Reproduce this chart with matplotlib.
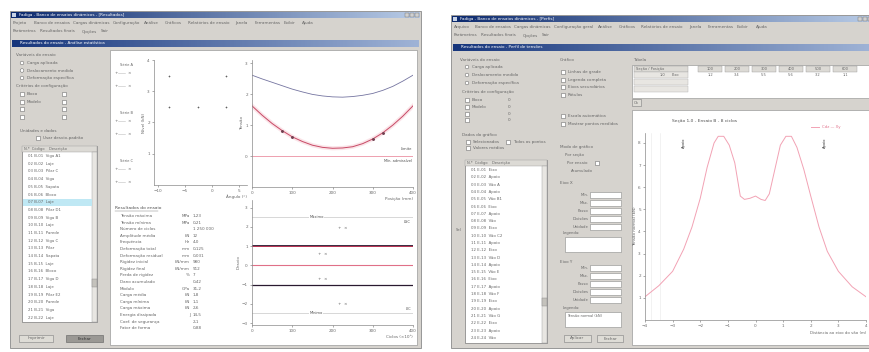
import matplotlib.pyplot as plt
import numpy as np
from matplotlib.colors import LinearSegmentedColormap
from matplotlib.patches import Rectangle


W, H = 869, 352

# left window, top-left plot: measured points
SCATTER_X = [-8.0, 2.6, -8.0, -2.6, 2.6]
SCATTER_Y = [3.5, 3.5, 2.5, 2.5, 2.5]

# left window, top-right plot: envelope curves
PROFILE_X = [0, 25, 50, 75, 100, 125, 150, 175, 200, 225, 250, 275, 300, 325, 350, 375, 400]
UPPER_CURVE = [2.61, 2.49, 2.38, 2.27, 2.16, 2.07, 1.99, 1.94, 1.91, 1.90, 1.92, 1.96, 2.02, 2.12, 2.25, 2.42, 2.61]
LOWER_CURVE = [1.62, 1.32, 1.05, 0.82, 0.62, 0.47, 0.35, 0.28, 0.25, 0.26, 0.30, 0.40, 0.55, 0.75, 1.00, 1.29, 1.62]
LOWER_MARKS_X = [75, 100, 300, 325]
LOWER_MARKS_Y = [0.82, 0.62, 0.55, 0.75]
LIMIT_LEVEL = 0.0

# left window, bottom plot: control levels
BAND_LEVELS = [2.5, 1.0, 0.0, -1.0, -2.5]
BAND_LABELS = ["Máximo", "", "", "", "Mínimo"]

# right window plot: two-peak profile
PEAK_X = [-4.0, -3.5, -3.0, -2.6, -2.3, -2.0, -1.75, -1.5, -1.35, -1.15, -0.95, -0.75, -0.55,
          -0.4, -0.2, 0.0, 0.2, 0.35, 0.5, 0.7, 0.9, 1.1, 1.3, 1.5, 1.75, 2.0, 2.3, 2.6, 3.0,
          3.5, 4.0]
PEAK_Y = [1.05, 1.55, 2.2, 3.2, 4.2, 5.5, 6.9, 8.0, 8.3, 8.3, 7.9, 7.1, 5.6,
          5.45, 5.5, 5.6, 5.45, 5.4, 5.7, 6.8, 7.9, 8.3, 8.3, 7.8, 6.8, 5.6, 4.2, 3.1, 2.2,
          1.5, 1.05]

MENU_LEFT = [
    ["Projeto", "Banco de ensaios", "Cargas dinâmicas", "Configuração", "Análise",
     "Gráficos", "Relatórios de ensaio", "Janela", "Ferramentas", "Exibir", "Ajuda"],
    ["Parâmetros", "Resultados finais", "Opções", "Sair"],
]
MENU_RIGHT = [
    ["Arquivo", "Banco de ensaios", "Cargas dinâmicas", "Configuração geral", "Análise",
     "Gráficos", "Relatórios de ensaio", "Janela", "Ferramentas", "Exibir", "Ajuda"],
    ["Parâmetros", "Resultados finais", "Opções", "Sair"],
]

LIST_LEFT = ["01 B-01  Viga A1", "02 B-02  Laje", "03 B-03  Pilar C", "04 B-04  Viga",
             "05 B-05  Sapata", "06 B-06  Bloco", "07 B-07  Laje", "08 B-08  Pilar D1",
             "09 B-09  Viga B", "10 B-10  Laje", "11 B-11  Parede", "12 B-12  Viga C",
             "13 B-13  Pilar", "14 B-14  Sapata", "15 B-15  Laje", "16 B-16  Bloco",
             "17 B-17  Viga D", "18 B-18  Laje", "19 B-19  Pilar E2", "20 B-20  Parede",
             "21 B-21  Viga", "22 B-22  Laje"]
LIST_RIGHT = ["01 E-01  Eixo", "02 E-02  Apoio", "03 E-03  Vão A", "04 E-04  Apoio",
              "05 E-05  Vão B1", "06 E-06  Eixo", "07 E-07  Apoio", "08 E-08  Vão",
              "09 E-09  Eixo", "10 E-10  Vão C2", "11 E-11  Apoio", "12 E-12  Eixo",
              "13 E-13  Vão D", "14 E-14  Apoio", "15 E-15  Vão E", "16 E-16  Eixo",
              "17 E-17  Apoio", "18 E-18  Vão F", "19 E-19  Eixo", "20 E-20  Apoio",
              "21 E-21  Vão G", "22 E-22  Eixo", "23 E-23  Apoio", "24 E-24  Vão"]

STATS = [("Tensão máxima", "MPa", "1,23"), ("Tensão mínima", "MPa", "0,21"),
         ("Número de ciclos", "", "1 250 000"), ("Amplitude média", "kN", "12"),
         ("Frequência", "Hz", "4,0"), ("Deformação total", "mm", "0,125"),
         ("Deformação residual", "mm", "0,031"), ("Rigidez inicial", "kN/mm", "980"),
         ("Rigidez final", "kN/mm", "912"), ("Perda de rigidez", "%", "7"),
         ("Dano acumulado", "", "0,42"), ("Módulo", "GPa", "31,2"),
         ("Carga média", "kN", "1,8"), ("Carga mínima", "kN", "1,1"),
         ("Carga máxima", "kN", "2,6"), ("Energia dissipada", "J", "14,5"),
         ("Coef. de segurança", "", "2,1"), ("Fator de forma", "", "0,88")]

TABLE_HEADER = ["100", "200", "300", "400", "500", "600"]
TABLE_ROW = ["1,2", "3,4", "5,5", "5,6", "3,2", "1,1"]

GRAY = "#d6d3ce"
TEXT = "#666666"
FS = 3.0


def axes_px(fig, x0, y0, x1, y1):
    return fig.add_axes([x0 / W, 1 - y1 / H, (x1 - x0) / W, (y1 - y0) / H])


def rect(ax, x0, y0, x1, y1, face, edge="none", lw=0.5, z=1):
    ax.add_patch(Rectangle((x0, y0), x1 - x0, y1 - y0, facecolor=face,
                           edgecolor=edge, linewidth=lw, zorder=z))


def gradient(ax, x0, y0, x1, y1, c0, c1):
    cmap = LinearSegmentedColormap.from_list("bar", [c0, c1])
    ax.imshow(np.linspace(0, 1, 200).reshape(1, -1), extent=(x0, x1, y1, y0),
              cmap=cmap, aspect="auto", zorder=2)


def label(ax, x, y, s, size=FS, color=TEXT, **kw):
    ax.text(x, y, s, fontsize=size, color=color, va="center", zorder=5, **kw)


def style_plot(ax):
    for side in ["top", "right"]:
        ax.spines[side].set_visible(False)
    for side in ["left", "bottom"]:
        ax.spines[side].set_color("#8a8a8a")
        ax.spines[side].set_linewidth(0.5)
    ax.tick_params(labelsize=FS, colors="#6a6a6a", length=1.5, width=0.4, pad=1.5)
    ax.set_facecolor("none")


def window_frame(bg, x0, y0, x1, y1, menus, title, inner_title):
    rect(bg, x0, y0, x1, y1, GRAY, "#8a8a8a", 0.6)
    gradient(bg, x0 + 1, y0 + 1, x1 - 1, y0 + 7, "#0c2a6e", "#b8cbe6")
    rect(bg, x0 + 2, y0 + 2, x0 + 6, y0 + 6, "#c8d4e8", z=3)
    label(bg, x0 + 9, y0 + 4, title, color="white")
    for k in range(3):
        rect(bg, x1 - 16 + 5 * k, y0 + 2, x1 - 12 + 5 * k, y0 + 6, "#d0d0d0", "#707070", 0.3, z=3)
    for row, words in enumerate(menus):
        x = x0 + 3
        for word in words:
            label(bg, x, y0 + 12 + row * 8.5, word)
            x += len(word) * 2.1 + 6
    gradient(bg, x0 + 2, y0 + 29, x1 - 2, y0 + 36, "#17367c", "#9fb3d6")
    label(bg, x0 + 10, y0 + 32.5, inner_title, color="white")


def list_box(bg, x0, y0, x1, y1, rows, step, highlight=None):
    rect(bg, x0, y0, x1, y1, "white", "#7a7a7a", 0.5)
    rect(bg, x0, y0, x1, y0 + 6, "#dcdad5", "#9a9a9a", 0.3)
    label(bg, x0 + 2, y0 + 3, "N.º  Código    Descrição", size=2.6)
    rect(bg, x1 - 5, y0 + 6, x1, y1, "#e8e6e2", "#9a9a9a", 0.3)
    rect(bg, x1 - 5, y0 + 6 + (y1 - y0) * 0.72, x1, y0 + 14 + (y1 - y0) * 0.72, "#c4c2bc", "#888", 0.3)
    for i, name in enumerate(rows):
        y = y0 + 10 + i * step
        if y > y1 - 3:
            break
        if i == highlight:
            rect(bg, x0 + 1, y - 3.3, x1 - 5, y + 3.3, "#bfe8f4", z=2)
        label(bg, x0 + 6, y, name, size=2.8)


def text_input(bg, x0, y, x1, name):
    rect(bg, x0, y - 3, x1, y + 3, "white", "#8a8a8a", 0.4)
    label(bg, x0 - 1.5, y, name, size=2.7, ha="right")


def checkbox(bg, x, y, name, size=FS):
    rect(bg, x - 2, y - 2, x + 2, y + 2, "white", "#707070", 0.4)
    label(bg, x + 5, y, name, size=size)


def main():
    fig = plt.figure(figsize=(W / 100, H / 100), dpi=100)
    fig.patch.set_facecolor("white")
    bg = fig.add_axes([0, 0, 1, 1])
    bg.set_axis_off()

    # ---------------- left window ----------------
    window_frame(bg, 10, 11, 421, 348, MENU_LEFT,
                 "Fadiga - Banco de ensaios dinâmicos - [Resultados]",
                 "Resultados do ensaio - Análise estatística")
    rect(bg, 110, 50, 417, 345, "white", "#9a9a9a", 0.5)

    label(bg, 16, 55, "Variáveis do ensaio")
    for i, name in enumerate(["Carga aplicada", "Deslocamento medido", "Deformação específica"]):
        bg.add_patch(plt.Circle((22, 63 + 7.5 * i), 1.8, facecolor="white", edgecolor="#707070",
                                linewidth=0.4, zorder=3))
        label(bg, 27, 63 + 7.5 * i, name)
    label(bg, 16, 86, "Critérios de configuração")
    for i, name in enumerate(["Bloco", "Modelo", "", ""]):
        checkbox(bg, 22, 94 + 7.7 * i, name)
        rect(bg, 62, 92 + 7.7 * i, 66, 96 + 7.7 * i, "white", "#707070", 0.4, z=3)
    label(bg, 20, 131, "Unidades e dados")
    checkbox(bg, 38, 138, "Usar desvio-padrão")
    list_box(bg, 22, 146, 97, 322, LIST_LEFT, 7.7, highlight=6)
    rect(bg, 19, 335, 53, 342, "#dedcd6", "#808080", 0.4)
    label(bg, 36, 338.5, "Imprimir", ha="center")
    rect(bg, 66, 335, 103, 342, "#9a9894", "#606060", 0.4)
    label(bg, 84.5, 338.5, "Fechar", ha="center", color="#303030")

    # legend column next to the point plot
    for name, y in [("Série A", 65), ("Série B", 113), ("Série C", 161)]:
        label(bg, 120, y, name, size=2.6)
        for k in range(2):
            yy = y + 8 + 13 * k
            label(bg, 115, yy, "+", size=3.0, color="#666")
            bg.plot([118, 125], [yy, yy], color="#c0c0c0", lw=0.4, zorder=4)
            label(bg, 127, yy, "×", size=3.0, color="#666")

    # statistics block
    label(bg, 115, 208, "Resultados do ensaio", size=3.2, color="#505050")
    bg.plot([115, 158], [210.5, 210.5], color="#707070", lw=0.3, zorder=4)
    for i, (name, unit, value) in enumerate(STATS):
        y = 216 + i * 6.6
        label(bg, 120, y, name)
        label(bg, 190, y, unit, ha="right")
        label(bg, 193, y, value)

    # top-left plot: points
    ax1 = axes_px(fig, 154, 60, 247, 185)
    style_plot(ax1)
    ax1.scatter(SCATTER_X, SCATTER_Y, marker="+", s=4, color="#606060", linewidths=0.45)
    ax1.set_xlim(-10.74, 6.48)
    ax1.set_ylim(0, 4)
    ax1.set_xticks([-10, -5, 0, 5])
    ax1.set_yticks([1, 2, 3, 4])
    ax1.set_xlabel("Ângulo (°)", fontsize=FS, color=TEXT, labelpad=1, loc="right")
    ax1.set_ylabel("Nível (kN)", fontsize=FS, color=TEXT, labelpad=1)

    # top-right plot: envelope curves
    ax2 = axes_px(fig, 252, 60, 413, 187)
    style_plot(ax2)
    ax2.plot(PROFILE_X, LOWER_CURVE, color="#f6c4ce", lw=3.0, alpha=0.45)
    ax2.plot(PROFILE_X, UPPER_CURVE, color="#7474a0", lw=0.6)
    ax2.plot(PROFILE_X, LOWER_CURVE, color="#c84a66", lw=0.7)
    ax2.plot(LOWER_MARKS_X, LOWER_MARKS_Y, "o", color="#704050", ms=1.1)
    ax2.axhline(LIMIT_LEVEL, color="#e87a90", lw=0.5)
    ax2.text(398, 0.18, "Limite", fontsize=2.6, color="#505050", ha="right")
    ax2.text(398, -0.2, "Mín. admissível", fontsize=2.6, color="#505050", ha="right")
    ax2.set_xlim(0, 400)
    ax2.set_ylim(-1.0, 3.1)
    ax2.set_xticks([0, 100, 200, 300, 400])
    ax2.set_yticks([0, 1, 2, 3])
    ax2.set_xlabel("Posição (mm)", fontsize=FS, color=TEXT, labelpad=1, loc="right")
    ax2.set_ylabel("Tensão", fontsize=FS, color=TEXT, labelpad=1)

    # bottom plot: control levels
    ax3 = axes_px(fig, 252, 200, 413, 325)
    style_plot(ax3)
    level_styles = [("#c8c8c8", 0.5), ("#2a1a30", 1.3), ("#e07088", 0.8),
                    ("#2a1a30", 0.9), ("#c8c8c8", 0.5)]
    for level, (color, width), name in zip(BAND_LEVELS, level_styles, BAND_LABELS):
        ax3.axhline(level, color=color, lw=width)
        if name:
            ax3.text(160, level, name, fontsize=2.6, color="#505050", ha="center", va="center",
                     bbox=dict(facecolor="white", edgecolor="none", pad=0.3))
            ax3.text(395, level - 0.25 if level > 0 else level + 0.25, "LSC" if level > 0 else "LIC",
                     fontsize=2.6, color="#505050", ha="right", va="center")
    ax3.axhline(1.0, color="#d03858", lw=0.6)
    for x, y in [(225, 1.95), (175, 0.6), (175, -0.7), (225, -2.0)]:
        ax3.text(x, y, "+  ×", fontsize=3, color="#606060", ha="center", va="center")
    ax3.set_xlim(0, 400)
    ax3.set_ylim(-3.1, 3.4)
    ax3.set_xticks([0, 100, 200, 300, 400])
    ax3.set_yticks([-3, -2, -1, 0, 1, 2, 3])
    ax3.set_xlabel("Ciclos (×10³)", fontsize=FS, color=TEXT, labelpad=1, loc="right")
    ax3.set_ylabel("Desvio", fontsize=FS, color=TEXT, labelpad=1)

    # ---------------- right window ----------------
    window_frame(bg, 451, 15, 874, 348, MENU_RIGHT,
                 "Fadiga - Banco de ensaios dinâmicos - [Perfis]",
                 "Resultados do ensaio - Perfil de tensões")

    label(bg, 460, 60, "Variáveis do ensaio")
    for i, name in enumerate(["Carga aplicada", "Deslocamento medido", "Deformação específica"]):
        bg.add_patch(plt.Circle((467, 67 + 8 * i), 1.8, facecolor="white", edgecolor="#707070",
                                linewidth=0.4, zorder=3))
        label(bg, 472, 67 + 8 * i, name)
    label(bg, 462, 92, "Critérios de configuração")
    for i, name in enumerate(["Bloco", "Modelo", "", ""]):
        checkbox(bg, 467, 100 + 6.8 * i, name)
        label(bg, 508, 100 + 6.8 * i, "0")
    label(bg, 462, 135, "Dados do gráfico")
    checkbox(bg, 468, 142, "Selecionados")
    checkbox(bg, 508, 142, "Todos os pontos")
    checkbox(bg, 468, 148, "Valores médios")
    list_box(bg, 465, 160, 547, 343, LIST_RIGHT, 7.3)
    label(bg, 456, 230, "Sel", size=2.6)

    label(bg, 560, 60, "Gráfico")
    for i, name in enumerate(["Linhas de grade", "Legenda completa", "Eixos secundários", "Rótulos"]):
        checkbox(bg, 563, 72 + 7.5 * i, name)
    for i, name in enumerate(["Escala automática", "Mostrar pontos medidos"]):
        checkbox(bg, 563, 116 + 8 * i, name)
    label(bg, 560, 147, "Modo de gráfico")
    label(bg, 565, 155, "Por seção", size=2.8)
    label(bg, 567, 163, "Por ensaio", size=2.8)
    rect(bg, 595, 161, 599, 165, "white", "#707070", 0.4, z=3)
    label(bg, 571, 171, "Acumulado", size=2.8)
    label(bg, 560, 183, "Eixo X")
    for i, name in enumerate(["Mín.", "Máx.", "Passo", "Divisões", "Unidade"]):
        text_input(bg, 590, 195 + 8 * i, 621, name)
    label(bg, 563, 233, "Legenda:", size=2.7)
    rect(bg, 565, 237, 621, 252, "white", "#8a8a8a", 0.4)
    label(bg, 560, 262, "Eixo Y")
    for i, name in enumerate(["Mín.", "Máx.", "Passo", "Divisões", "Unidade"]):
        text_input(bg, 590, 268 + 8 * i, 621, name)
    label(bg, 563, 308, "Legenda:", size=2.7)
    rect(bg, 565, 312, 621, 327, "white", "#8a8a8a", 0.4)
    label(bg, 567, 316, "Tensão normal (kN)", size=2.6)
    rect(bg, 564, 335, 591, 342, "#dedcd6", "#808080", 0.4)
    label(bg, 577.5, 338.5, "Aplicar", ha="center")
    rect(bg, 597, 335, 623, 342, "#dedcd6", "#808080", 0.4)
    label(bg, 610, 338.5, "Fechar", ha="center")

    # table
    label(bg, 633, 60, "Tabela")
    rect(bg, 632, 65, 872, 98, "white", "#8a8a8a", 0.4)
    rect(bg, 634, 66, 688, 71.5, "#dcdad5", "#9a9a9a", 0.3)
    label(bg, 636, 68.7, "Seção / Posição", size=2.6)
    for r in range(3):
        rect(bg, 634, 72 + 7 * r, 688, 78 + 7 * r, "#e8e6e2", "#b0b0b0", 0.3)
    label(bg, 660, 75, "1,0", size=2.6)
    label(bg, 672, 75, "Eixo", size=2.6)
    for j, (head, value) in enumerate(zip(TABLE_HEADER, TABLE_ROW)):
        x = 710 + 27 * j
        rect(bg, x - 12, 66, x + 12, 71.5, "#dcdad5", "#9a9a9a", 0.3)
        label(bg, x, 68.7, head, size=2.6, ha="center")
        label(bg, x, 75, value, size=2.6, ha="center")
    rect(bg, 632, 99, 641, 106, "#dedcd6", "#808080", 0.4)
    label(bg, 636.5, 102.5, "Ok", size=2.6, ha="center")
    rect(bg, 632, 110, 872, 345, "white", "#9a9a9a", 0.5)

    # right plot
    ax4 = axes_px(fig, 645, 133, 866, 320)
    style_plot(ax4)
    for x in [-3.8, -3.45]:
        ax4.axvline(x, color="#e8e8e8", lw=0.4)
    ax4.plot(PEAK_X, PEAK_Y, color="#f2a2b4", lw=0.7, label="Cdz — Xy")
    ax4.set_xlim(-4.0, 4.0)
    ax4.set_ylim(0, 8.45)
    ax4.set_xticks([-4, -3, -2, -1, 0, 1, 2, 3, 4])
    ax4.set_yticks([1, 2, 3, 4, 5, 6, 7, 8])
    ax4.set_xlabel("Distância ao eixo do vão (m)", fontsize=2.8, color=TEXT, labelpad=2, loc="right")
    ax4.set_ylabel("Tensão normal (kN)", fontsize=FS, color=TEXT, labelpad=1)
    ax4.set_title("Seção 1,0 - Ensaio B - 8 ciclos", fontsize=3.2, color="#505050", pad=8, x=0.27)
    ax4.legend(loc="upper right", bbox_to_anchor=(0.9, 1.06), fontsize=2.8, frameon=False,
               labelcolor="#e0708a", handlelength=2)
    ax4.text(-2.6, 7.8, "Apoio", fontsize=2.6, rotation=90, color="#303030", ha="center")
    ax4.text(2.5, 7.8, "Apoio", fontsize=2.6, rotation=90, color="#303030", ha="center")

    bg.set_xlim(0, W)
    bg.set_ylim(H, 0)

    fig.savefig("out.png", dpi=100)
    plt.close(fig)


if __name__ == "__main__":
    main()
